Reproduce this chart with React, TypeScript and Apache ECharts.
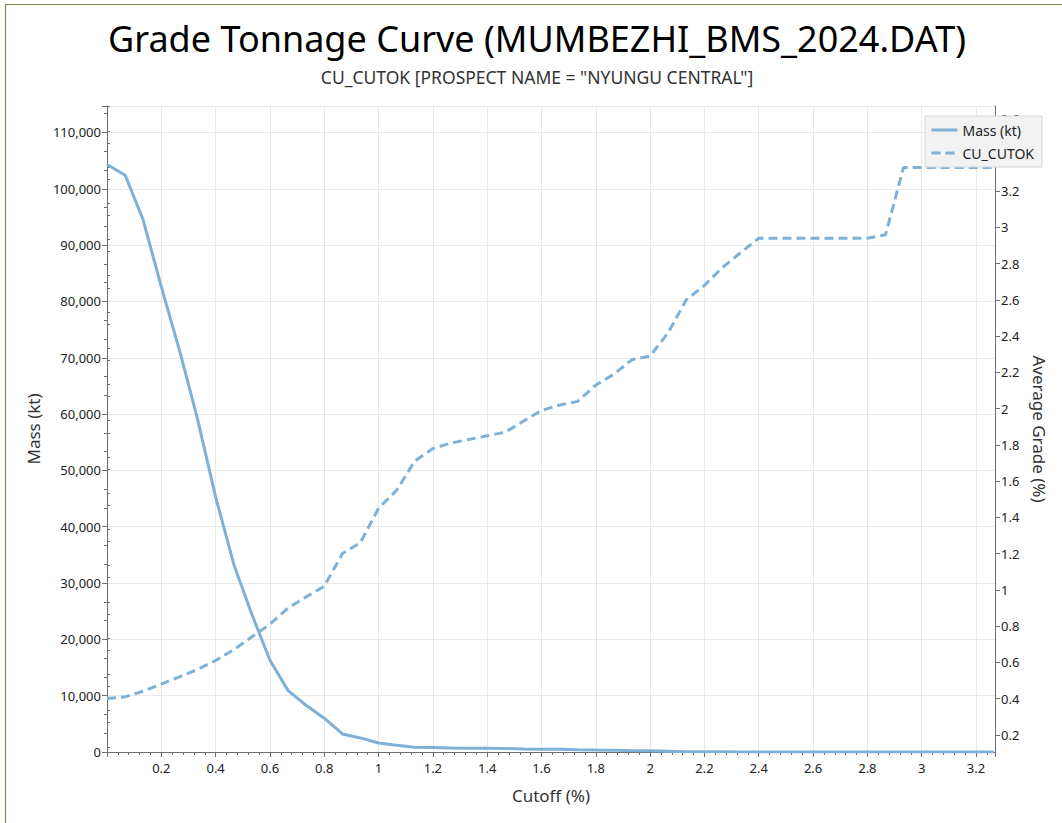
import React, { useEffect, useRef } from "react";
import * as echarts from "echarts";

const cutoffs = [
  0, 0.067, 0.133, 0.2, 0.267, 0.333, 0.4, 0.467, 0.533, 0.6,
  0.667, 0.733, 0.8, 0.867, 0.933, 1.0, 1.067, 1.133, 1.2, 1.267,
  1.333, 1.4, 1.467, 1.533, 1.6, 1.667, 1.733, 1.8, 1.867, 1.933,
  2.0, 2.067, 2.133, 2.2, 2.267, 2.333, 2.4, 2.467, 2.533, 2.6,
  2.667, 2.733, 2.8, 2.867, 2.933, 3.0, 3.067, 3.133, 3.2, 3.267,
];

const massKt = [
  104300, 102400, 94500, 82600, 71300, 59200, 45300, 33300, 24500, 16300,
  10900, 8300, 6000, 3200, 2500, 1600, 1200, 850, 800, 700,
  650, 650, 620, 520, 500, 480, 380, 350, 330, 220,
  200, 150, 40, 30, 25, 20, 15, 15, 15, 15,
  15, 15, 15, 12, 8, 8, 8, 8, 8, 8,
];

const avgGrade = [
  0.40, 0.41, 0.44, 0.48, 0.52, 0.56, 0.61, 0.67, 0.74, 0.81,
  0.90, 0.96, 1.02, 1.20, 1.26, 1.45, 1.55, 1.71, 1.78, 1.81,
  1.83, 1.85, 1.87, 1.93, 1.99, 2.02, 2.04, 2.13, 2.19, 2.27,
  2.29, 2.42, 2.60, 2.68, 2.78, 2.86, 2.94, 2.94, 2.94, 2.94,
  2.94, 2.94, 2.94, 2.96, 3.33, 3.33, 3.33, 3.33, 3.33, 3.33,
];

const gradeTicks = [
  0.2, 0.4, 0.6, 0.8, 1, 1.2, 1.4, 1.6, 1.8, 2, 2.2, 2.4, 2.6, 2.8, 3, 3.2, 3.4, 3.6,
];
// 3.4 sits behind the legend box in the reference
const gradeLabels = [
  0.2, 0.4, 0.6, 0.8, 1, 1.2, 1.4, 1.6, 1.8, 2, 2.2, 2.4, 2.6, 2.8, 3, 3.2, 3.6,
];

const TITLE = "Grade Tonnage Curve (MUMBEZHI_BMS_2024.DAT)";
const SUBTITLE = 'CU_CUTOK [PROSPECT NAME = "NYUNGU CENTRAL"]';
const LINE_COLOR = "#7eb1d8";
const AXIS_COLOR = "#6e6e6e";
const LABEL_COLOR = "#222";
const FONT = "'Noto Sans', 'Open Sans', sans-serif";

const G_MIN = 0.105;
const G_MAX = 3.67;

export default function App() {
  const ref = useRef<HTMLDivElement>(null);
  useEffect(() => {
    if (!ref.current) return;
    const chart = echarts.init(ref.current, undefined, { renderer: "svg" });

    const minorGrade: number[] = [];
    const steps = [0.2 / 3, 0.4 / 3];
    [0].concat(gradeTicks).forEach((t) => {
      steps.forEach((s) => {
        const v = t + s;
        if (v > G_MIN && v < G_MAX && !gradeTicks.some((g) => Math.abs(g - v) < 1e-6)) minorGrade.push(v);
      });
    });

    const option: any = {
      animation: false,
      textStyle: { fontFamily: FONT },
      grid: { left: 107, right: 67, top: 106, bottom: 71, containLabel: false },
      graphic: [
        {
          type: "rect",
          shape: { x: 5.5, y: 4.5, width: 1100, height: 900 },
          style: { fill: "none", stroke: "#7d8c4f", lineWidth: 1.2 },
          silent: true,
        },
        {
          type: "text",
          x: 537,
          y: 38,
          style: {
            text: TITLE,
            fontSize: 36,
            fontFamily: FONT,
            fill: "#000",
            align: "center",
            verticalAlign: "middle",
          },
        },
        {
          type: "text",
          x: 537,
          y: 77,
          style: {
            text: SUBTITLE,
            fontSize: 17.5,
            fontFamily: FONT,
            fill: "#333",
            align: "center",
            verticalAlign: "middle",
          },
        },
      ],
      legend: {
        left: 925,
        top: 116,
        orient: "vertical",
        backgroundColor: "#f2f2f2",
        borderColor: "#d6d6d6",
        borderWidth: 1,
        borderRadius: 0,
        padding: [7, 8, 7, 5],
        itemWidth: 26,
        itemHeight: 14,
        itemGap: 9,
        itemStyle: { opacity: 0 },
        lineStyle: { width: 3 },
        textStyle: { fontSize: 14, color: "#222", fontFamily: FONT },
        data: ["Mass (kt)", "CU_CUTOK"],
      },
      xAxis: {
        type: "value",
        min: 0,
        max: 3.27,
        interval: 0.2,
        name: "Cutoff (%)",
        nameLocation: "middle",
        nameGap: 35,
        nameTextStyle: { fontSize: 17, color: "#333", fontFamily: FONT },
        axisLine: { show: true, onZero: false, lineStyle: { color: AXIS_COLOR } },
        axisTick: { show: true, length: 5, lineStyle: { color: AXIS_COLOR } },
        minorTick: { show: true, splitNumber: 5, length: 3, lineStyle: { color: AXIS_COLOR } },
        axisLabel: {
          showMinLabel: false,
          showMaxLabel: false,
          margin: 9,
          fontSize: 13,
          color: LABEL_COLOR,
          fontFamily: FONT,
        },
        splitLine: { show: true, lineStyle: { color: "#e8e8e8", width: 1 } },
      },
      yAxis: [
        {
          type: "value",
          min: 0,
          max: 114700,
          interval: 10000,
          position: "left",
          name: "Mass (kt)",
          nameLocation: "middle",
          nameGap: 59,
          nameTextStyle: { fontSize: 17, color: "#333", fontFamily: FONT },
          axisLine: { show: true, onZero: false, lineStyle: { color: AXIS_COLOR } },
          axisTick: { show: true, length: 5, lineStyle: { color: AXIS_COLOR } },
          minorTick: { show: true, splitNumber: 3, length: 3, lineStyle: { color: AXIS_COLOR } },
          axisLabel: {
            showMaxLabel: false,
            margin: 6,
            fontSize: 13,
            color: LABEL_COLOR,
            fontFamily: FONT,
            formatter: (v: number) => v.toLocaleString("en-US"),
          },
          splitLine: { show: true, lineStyle: { color: "#e8e8e8", width: 1 } },
        },
        {
          type: "value",
          min: G_MIN,
          max: G_MAX,
          position: "right",
          name: "Average Grade (%)",
          nameLocation: "middle",
          nameRotate: -90,
          nameGap: 36,
          nameTextStyle: { fontSize: 17, color: "#333", fontFamily: FONT },
          axisLine: { show: true, onZero: false, lineStyle: { color: AXIS_COLOR } },
          axisTick: {
            show: true,
            length: 5,
            customValues: gradeTicks,
            lineStyle: { color: AXIS_COLOR },
          },
          axisLabel: {
            customValues: gradeLabels,
            margin: 6,
            fontSize: 13,
            color: LABEL_COLOR,
            fontFamily: FONT,
            formatter: (v: number) => String(Math.round(v * 10) / 10),
          },
          splitLine: { show: false },
        },
        {
          type: "value",
          min: G_MIN,
          max: G_MAX,
          position: "right",
          axisLine: { show: false },
          axisTick: {
            show: true,
            length: 3,
            customValues: minorGrade,
            lineStyle: { color: AXIS_COLOR },
          },
          axisLabel: { show: false },
          splitLine: { show: false },
        },
      ],
      series: [
        {
          name: "Mass (kt)",
          type: "line",
          yAxisIndex: 0,
          symbol: "none",
          showSymbol: false,
          lineStyle: { color: LINE_COLOR, width: 3 },
          itemStyle: { color: LINE_COLOR },
          data: cutoffs.map((c, i) => [c, massKt[i]]),
          z: 3,
        },
        {
          name: "CU_CUTOK",
          type: "line",
          yAxisIndex: 1,
          symbol: "none",
          showSymbol: false,
          lineStyle: { color: LINE_COLOR, width: 3, type: [9, 5] },
          itemStyle: { color: LINE_COLOR },
          data: cutoffs.map((c, i) => [c, avgGrade[i]]),
          z: 2,
        },
      ],
    };
    chart.setOption(option);
    return () => chart.dispose();
  }, []);

  return (
    <div
      ref={ref}
      style={{ position: "fixed", left: 0, top: 0, width: 1062, height: 823, background: "#fff" }}
    />
  );
}
